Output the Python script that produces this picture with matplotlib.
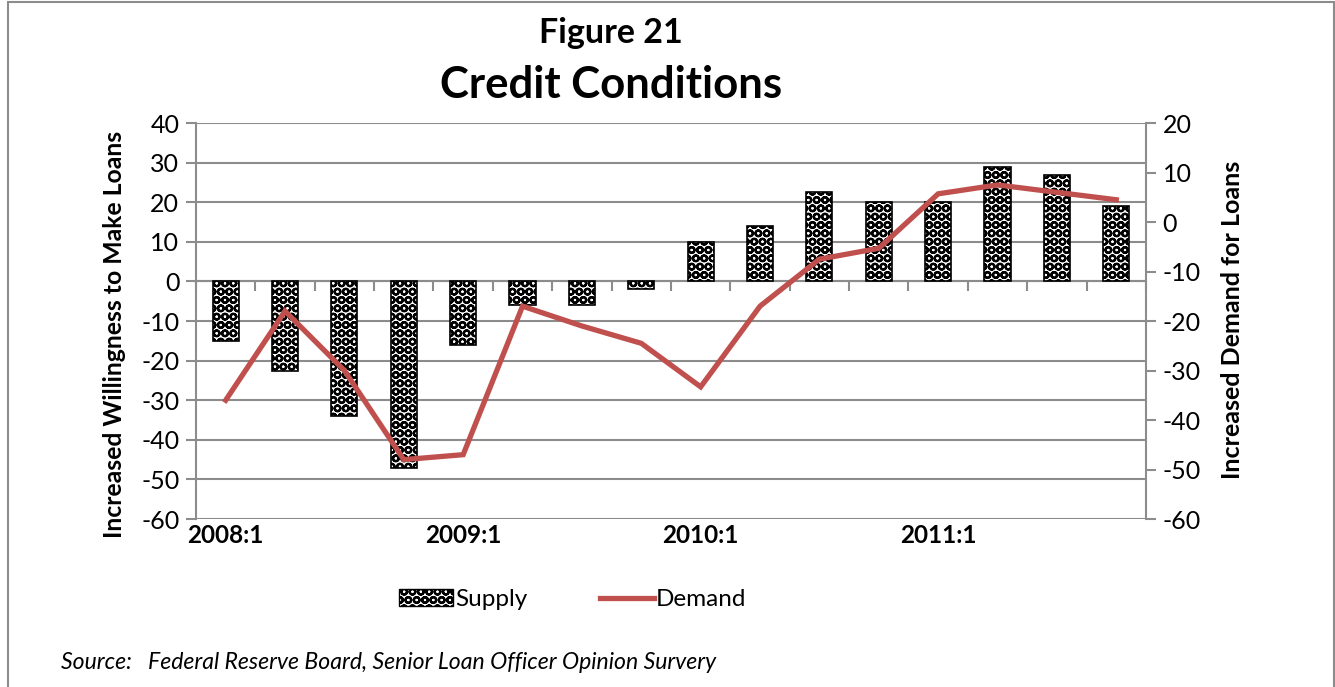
import matplotlib
matplotlib.use('Agg')
import matplotlib.pyplot as plt
import numpy as np
from matplotlib.patches import Rectangle
from matplotlib.lines import Line2D

# Senior Loan Officer survey, net percent, quarterly 2008:1 - 2011:4
quarters = ['2008:1', '2008:2', '2008:3', '2008:4',
            '2009:1', '2009:2', '2009:3', '2009:4',
            '2010:1', '2010:2', '2010:3', '2010:4',
            '2011:1', '2011:2', '2011:3', '2011:4']
supply = [-15, -22.5, -34, -47, -16, -6, -6, -2,
          10, 14, 22.5, 20, 20, 29, 27, 19]
demand = [-36, -18, -30, -48, -47, -17, -21, -24.5,
          -33.3, -17, -7.5, -5.3, 5.7, 7.5, 6, 4.5]
year_labels = ['2008:1', '2009:1', '2010:1', '2011:1']

plt.rcParams['font.family'] = ['Lato', 'DejaVu Sans']
plt.rcParams['axes.unicode_minus'] = False
plt.rcParams['hatch.linewidth'] = 1.6
grid_gray = '#8c8c8c'
red = '#c0504d'

fig = plt.figure(figsize=(13.35, 6.87), dpi=100)
fig.patches.append(Rectangle((0.006, -0.1), 0.993, 1.097, transform=fig.transFigure,
                             fill=False, edgecolor='#8c8c8c', linewidth=1.5))

ax = fig.add_axes([0.1468, 0.2445, 0.7116, 0.5764])
x = np.arange(len(quarters))
width = 0.44

# patterned bars: white fill, black ring hatch, black outline
ax.bar(x, supply, width, facecolor='white', edgecolor='black', hatch='OO',
       linewidth=1.2, zorder=3)

ax.set_xlim(-0.5, len(quarters) - 0.5)
ax.set_ylim(-60, 40)
ax.set_yticks(np.arange(-60, 41, 10))
ax.yaxis.grid(True, color=grid_gray, linewidth=1.5, zorder=0)
ax.set_axisbelow(True)
for side in ['top', 'right']:
    ax.spines[side].set_visible(False)
ax.spines['left'].set_color(grid_gray)
ax.spines['left'].set_linewidth(1.5)
ax.spines['bottom'].set_position(('data', 0))
ax.spines['bottom'].set_color(grid_gray)
ax.spines['bottom'].set_linewidth(1.5)
ax.tick_params(axis='y', direction='out', length=7, width=1.5, color=grid_gray,
               labelsize=18, pad=5)
ax.set_xticks(np.arange(-0.5, len(quarters) + 0.5, 1))
ax.set_xticklabels([])
ax.tick_params(axis='x', direction='out', length=7, width=1.5, color=grid_gray)
for lbl in year_labels:
    ax.text(quarters.index(lbl), -61.2, lbl, ha='center', va='top',
            fontsize=17.5, fontweight='bold')
ax.set_ylabel('Increased Willingness to Make Loans', fontsize=17.8,
              fontweight='bold', va='center')
ax.yaxis.set_label_coords(-0.0853, 0.467)

ax2 = ax.twinx()
ax2.plot(x, demand, color=red, linewidth=3.8, zorder=6, solid_joinstyle='miter')
ax2.set_ylim(-60, 20)
ax2.set_yticks(np.arange(-60, 21, 10))
for side in ['top', 'left', 'bottom']:
    ax2.spines[side].set_visible(False)
ax2.spines['right'].set_color(grid_gray)
ax2.spines['right'].set_linewidth(1.5)
ax2.tick_params(axis='y', direction='out', length=7, width=1.5, color=grid_gray,
                labelsize=18, pad=5)
ax2.set_ylabel('Increased Demand for Loans', fontsize=18, fontweight='bold',
               va='center')
ax2.yaxis.set_label_coords(1.0916, 0.503)

fig.text(0.4577, 0.952, 'Figure 21', ha='center', va='center', fontsize=24.5,
         fontweight='bold')
fig.text(0.4577, 0.877, 'Credit Conditions', ha='center', va='center', fontsize=31.5,
         fontweight='bold')

handles = [Rectangle((0, 0), 1, 1, facecolor='white', edgecolor='black', hatch='OO',
                     linewidth=1),
           Line2D([0], [0], color=red, linewidth=3.8)]
fig.legend(handles, ['Supply', 'Demand'], loc='center', bbox_to_anchor=(0.429, 0.127),
           ncol=2, frameon=False, fontsize=17.5, handlelength=2.2, handletextpad=0.1,
           columnspacing=3.0)

fig.text(0.046, 0.036, 'Source:   Federal Reserve Board, Senior Loan Officer Opinion Survery',
         ha='left', va='center', fontsize=16.6, style='italic')

fig.savefig('out.png', dpi=100)
